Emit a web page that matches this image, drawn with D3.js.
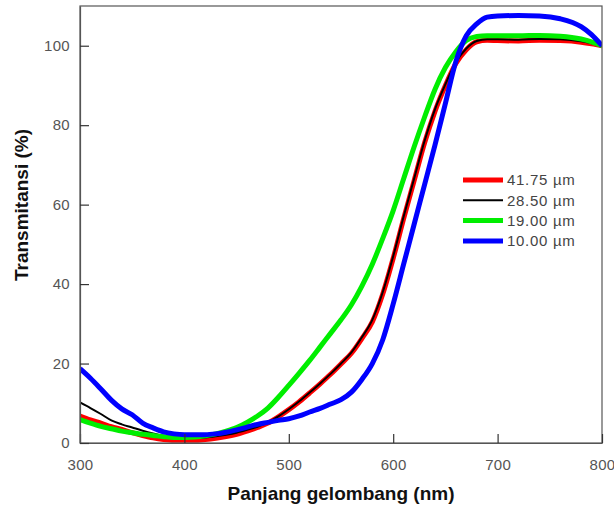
<!DOCTYPE html>
<html>
<head>
<meta charset="utf-8">
<script src="https://cdn.jsdelivr.net/npm/d3@7"></script>
<style>
  body { margin: 0; background: #fff; }
  text { font-family: Arial, "Liberation Sans", sans-serif; }
</style>
</head>
<body>
<div id="chart"></div>
<script>
// wavelength (nm)
const wavelengths = [300, 310, 320, 330, 340, 350, 360, 370, 380, 390, 400, 410, 420, 430, 440, 450, 460, 470, 480, 490,
  500, 510, 520, 530, 540, 550, 560, 570, 580, 590, 600, 610, 620, 630, 640, 650, 660, 670, 680, 690,
  700, 720, 740, 760, 780, 790, 800];

// transmittance (%) per thickness
const t4175 = [6.8, 5.8, 5.0, 4.1, 3.4, 2.6, 1.9, 1.3, 0.9, 0.7, 0.7, 0.7, 0.9, 1.2, 1.6, 2.2, 3.0, 3.9, 5.0, 6.6,
  8.4, 10.4, 12.6, 14.9, 17.3, 19.9, 22.6, 26.3, 30.5, 37.5, 46.5, 56.5, 66, 75.5, 83.5, 90, 95.5, 99, 101, 101.4,
  101.3, 101.2, 101.4, 101.3, 100.9, 100.5, 100];
const t2850 = [10.2, 8.8, 7.3, 5.7, 4.7, 3.9, 3.1, 2.4, 1.8, 1.4, 1.3, 1.3, 1.4, 1.7, 2.1, 2.6, 3.3, 4.1, 5.2, 6.7,
  8.5, 10.5, 12.7, 15.0, 17.4, 20.0, 22.8, 26.6, 31, 38, 47, 57, 66.5, 76, 84, 90.3, 95.8, 99.3, 101.2, 101.6,
  101.6, 101.5, 101.7, 101.6, 101.1, 100.6, 100];
const t1900 = [5.9, 5.0, 4.2, 3.6, 3.0, 2.6, 2.2, 1.9, 1.6, 1.4, 1.4, 1.5, 1.8, 2.3, 3.0, 3.9, 5.2, 6.8, 8.8, 11.5,
  14.5, 17.6, 20.8, 24.2, 27.6, 31, 34.8, 39.5, 45, 51.5, 58.5, 66.5, 74.5, 82, 89, 94.5, 98.5, 101.3, 102.3, 102.5,
  102.5, 102.5, 102.6, 102.4, 101.7, 101, 100];
const t1000 = [18.7, 16.3, 13.6, 10.8, 8.6, 7.1, 5.0, 3.8, 2.8, 2.3, 2.1, 2.1, 2.1, 2.3, 2.7, 3.3, 4.0, 4.7, 5.2, 5.7,
  6.1, 6.8, 7.8, 8.7, 9.8, 10.9, 12.8, 16, 20, 26, 35, 45, 55, 65, 75, 85.5, 96, 102.5, 105.5, 107.2,
  107.5, 107.6, 107.5, 106.8, 104.8, 102.8, 100];

const seriesNames = ["41.75 \u00b5m", "28.50 \u00b5m", "19.00 \u00b5m", "10.00 \u00b5m"];
const seriesColors = ["#ff0000", "#000000", "#00ee00", "#0000ff"];
const seriesWidths = [5, 2, 5, 5];
const seriesValues = [t4175, t2850, t1900, t1000];

const xTicks = [300, 400, 500, 600, 700, 800];
const yTicks = [0, 20, 40, 60, 80, 100];

const W = 614, H = 508;
const margin = {top: 6, right: 12, bottom: 65, left: 80};
const width = W - margin.left - margin.right;
const height = H - margin.top - margin.bottom;

const svg = d3.select('#chart')
  .append('svg')
  .attr('width', W)
  .attr('height', H)
  .append('g')
  .attr('transform', 'translate(' + margin.left + ',' + margin.top + ')');

const x = d3.scaleLinear().domain([300, 800]).range([0, width]);
const y = d3.scaleLinear().domain([0, 110]).range([height, 0]);

svg.append('clipPath').attr('id', 'plotclip')
  .append('rect').attr('x', 0).attr('y', 0).attr('width', width).attr('height', height);

const line = d3.line()
  .x(d => x(d[0]))
  .y(d => y(d[1]))
  .curve(d3.curveMonotoneX);

const lines = svg.append('g').attr('clip-path', 'url(#plotclip)');
seriesValues.forEach((vals, i) => {
  lines.append('path')
    .datum(wavelengths.map((w, j) => [w, vals[j]]))
    .attr('fill', 'none')
    .attr('stroke', seriesColors[i])
    .attr('stroke-width', seriesWidths[i])
    .attr('stroke-linejoin', 'round')
    .attr('d', line);
});

// frame
svg.append('rect')
  .attr('x', 0).attr('y', 0)
  .attr('width', width).attr('height', height)
  .attr('fill', 'none')
  .attr('stroke', '#555')
  .attr('stroke-width', 1.2);

const xAxis = svg.append('g')
  .attr('transform', 'translate(0,' + height + ')')
  .call(d3.axisBottom(x).tickValues(xTicks).tickSizeInner(-9).tickSizeOuter(0).tickPadding(16));
const yAxis = svg.append('g')
  .call(d3.axisLeft(y).tickValues(yTicks).tickSizeInner(-9).tickSizeOuter(0).tickPadding(10));

[xAxis, yAxis].forEach(a => {
  a.select('.domain').attr('stroke', '#555').attr('stroke-width', 1.2);
  a.selectAll('.tick line').attr('stroke', '#333').attr('stroke-width', 1.2);
  a.selectAll('.tick text')
    .attr('fill', '#555')
    .style('font-size', '15px')
    .style('letter-spacing', '0.3px')
    .style('font-family', 'Arial, "Liberation Sans", sans-serif');
});

svg.append('text')
  .attr('x', width / 2)
  .attr('y', height + 57)
  .attr('text-anchor', 'middle')
  .style('font-size', '19px')
  .style('font-weight', 'bold')
  .attr('fill', '#111')
  .text('Panjang gelombang (nm)');

svg.append('text')
  .attr('transform', 'translate(' + (28 - margin.left) + ',' + (205 - margin.top) + ') rotate(-90)')
  .attr('text-anchor', 'middle')
  .style('font-size', '19px')
  .style('font-weight', 'bold')
  .attr('fill', '#111')
  .text('Transmitansi (%)');

// legend
const legend = svg.append('g')
  .attr('transform', 'translate(' + (463 - margin.left) + ',' + (180 - margin.top) + ')');
seriesNames.forEach((name, i) => {
  const row = legend.append('g').attr('transform', 'translate(0,' + (i * 20.3) + ')');
  row.append('line')
    .attr('x1', 0).attr('x2', 40)
    .attr('y1', 0).attr('y2', 0)
    .attr('stroke', seriesColors[i])
    .attr('stroke-width', seriesWidths[i]);
  row.append('text')
    .attr('x', 44)
    .attr('y', 0)
    .attr('dy', '0.36em')
    .attr('fill', '#444')
    .style('font-size', '15px')
    .style('letter-spacing', '0.7px')
    .text(name);
});
</script>
</body>
</html>
